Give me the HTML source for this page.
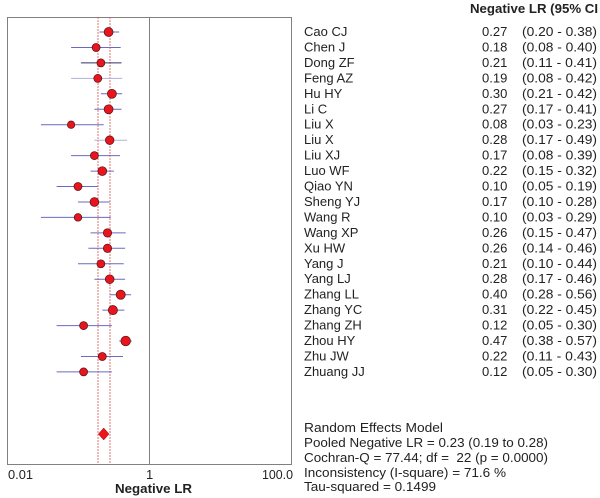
<!DOCTYPE html>
<html><head><meta charset="utf-8"><style>
body{margin:0;background:#fff;}
svg{display:block;font-family:"Liberation Sans",Arial,sans-serif;}
</style></head><body>
<svg width="600" height="498" viewBox="0 0 600 498">
<rect x="7.5" y="17.5" width="284" height="447" fill="none" stroke="#808080" stroke-width="1"/>
<line x1="149.5" y1="17" x2="149.5" y2="464" stroke="#808080"/>
<line x1="98" y1="17" x2="98" y2="464" stroke="#e05050" stroke-width="0.8" stroke-dasharray="2,1"/>
<line x1="110" y1="17" x2="110" y2="464" stroke="#e05050" stroke-width="0.8" stroke-dasharray="2,1"/>
<g stroke="#6a6ac0" stroke-width="1">
<line x1="99.4" y1="32" x2="119.2" y2="32"/>
<line x1="71.1" y1="47.5" x2="120.7" y2="47.5"/>
<line x1="80.9" y1="62.9" x2="121.5" y2="62.9" stroke="#333366"/>
<line x1="71.1" y1="78.4" x2="122.2" y2="78.4" stroke="#b0b0dd"/>
<line x1="100.9" y1="93.8" x2="122.2" y2="93.8"/>
<line x1="94.4" y1="109.3" x2="121.5" y2="109.3"/>
<line x1="40.9" y1="124.7" x2="103.7" y2="124.7"/>
<line x1="94.4" y1="140.2" x2="127" y2="140.2" stroke="#b0b0dd"/>
<line x1="71.1" y1="155.6" x2="120" y2="155.6"/>
<line x1="90.5" y1="171.1" x2="113.9" y2="171.1"/>
<line x1="56.6" y1="186.5" x2="97.8" y2="186.5"/>
<line x1="78" y1="202" x2="109.7" y2="202"/>
<line x1="40.9" y1="217.4" x2="110.8" y2="217.4"/>
<line x1="90.5" y1="232.9" x2="125.7" y2="232.9"/>
<line x1="88.4" y1="248.3" x2="125.1" y2="248.3"/>
<line x1="78" y1="263.8" x2="123.7" y2="263.8"/>
<line x1="94.4" y1="279.2" x2="125.1" y2="279.2"/>
<line x1="109.7" y1="294.7" x2="131.1" y2="294.7"/>
<line x1="102.3" y1="310.1" x2="124.4" y2="310.1"/>
<line x1="56.6" y1="325.6" x2="111.9" y2="325.6"/>
<line x1="119.2" y1="341" x2="131.7" y2="341"/>
<line x1="80.9" y1="356.5" x2="123" y2="356.5"/>
<line x1="56.6" y1="371.9" x2="111.9" y2="371.9"/>
</g>
<g fill="#e8141e" stroke="#551111" stroke-width="0.7">
<circle cx="108.6" cy="32" r="4.5"/>
<circle cx="96.1" cy="47.5" r="4"/>
<circle cx="100.9" cy="62.9" r="4"/>
<circle cx="97.8" cy="78.4" r="4"/>
<circle cx="111.9" cy="93.8" r="4.5"/>
<circle cx="108.6" cy="109.3" r="4.5"/>
<circle cx="71.1" cy="124.7" r="3.7"/>
<circle cx="109.7" cy="140.2" r="4.3"/>
<circle cx="94.4" cy="155.6" r="4"/>
<circle cx="102.3" cy="171.1" r="4.4"/>
<circle cx="78" cy="186.5" r="4"/>
<circle cx="94.4" cy="202" r="4.4"/>
<circle cx="78" cy="217.4" r="3.8"/>
<circle cx="107.5" cy="232.9" r="4.2"/>
<circle cx="107.5" cy="248.3" r="4.2"/>
<circle cx="100.9" cy="263.8" r="4"/>
<circle cx="109.7" cy="279.2" r="4.4"/>
<circle cx="120.7" cy="294.7" r="4.6"/>
<circle cx="112.9" cy="310.1" r="4.6"/>
<circle cx="83.6" cy="325.6" r="4"/>
<circle cx="125.7" cy="341" r="4.8"/>
<circle cx="102.3" cy="356.5" r="4"/>
<circle cx="83.6" cy="371.9" r="4"/>
</g>
<polygon points="103.7,428 109,434 103.7,440 98.4,434" fill="#e8141e" stroke="#aa0000" stroke-width="0.5"/>
<g font-size="13" fill="#222">
<text x="8" y="479" textLength="25" lengthAdjust="spacingAndGlyphs">0.01</text>
<text x="146" y="479">1</text>
<text x="262" y="479" textLength="31" lengthAdjust="spacingAndGlyphs">100.0</text>
<text x="115" y="493" font-weight="bold" textLength="77" lengthAdjust="spacingAndGlyphs">Negative LR</text>
<text x="470" y="13" font-weight="bold" textLength="128" lengthAdjust="spacingAndGlyphs">Negative LR (95% CI</text>
</g>
<g font-size="13" fill="#222">
<text x="304" y="36">Cao CJ</text><text x="482" y="36">0.27</text><text x="522" y="36" textLength="75" lengthAdjust="spacingAndGlyphs">(0.20 - 0.38)</text>
<text x="304" y="51.5">Chen J</text><text x="482" y="51.5">0.18</text><text x="522" y="51.5" textLength="75" lengthAdjust="spacingAndGlyphs">(0.08 - 0.40)</text>
<text x="304" y="66.9">Dong ZF</text><text x="482" y="66.9">0.21</text><text x="522" y="66.9" textLength="75" lengthAdjust="spacingAndGlyphs">(0.11 - 0.41)</text>
<text x="304" y="82.4">Feng AZ</text><text x="482" y="82.4">0.19</text><text x="522" y="82.4" textLength="75" lengthAdjust="spacingAndGlyphs">(0.08 - 0.42)</text>
<text x="304" y="97.8">Hu HY</text><text x="482" y="97.8">0.30</text><text x="522" y="97.8" textLength="75" lengthAdjust="spacingAndGlyphs">(0.21 - 0.42)</text>
<text x="304" y="113.3">Li C</text><text x="482" y="113.3">0.27</text><text x="522" y="113.3" textLength="75" lengthAdjust="spacingAndGlyphs">(0.17 - 0.41)</text>
<text x="304" y="128.7">Liu X</text><text x="482" y="128.7">0.08</text><text x="522" y="128.7" textLength="75" lengthAdjust="spacingAndGlyphs">(0.03 - 0.23)</text>
<text x="304" y="144.2">Liu X</text><text x="482" y="144.2">0.28</text><text x="522" y="144.2" textLength="75" lengthAdjust="spacingAndGlyphs">(0.17 - 0.49)</text>
<text x="304" y="159.6">Liu XJ</text><text x="482" y="159.6">0.17</text><text x="522" y="159.6" textLength="75" lengthAdjust="spacingAndGlyphs">(0.08 - 0.39)</text>
<text x="304" y="175.1">Luo WF</text><text x="482" y="175.1">0.22</text><text x="522" y="175.1" textLength="75" lengthAdjust="spacingAndGlyphs">(0.15 - 0.32)</text>
<text x="304" y="190.5">Qiao YN</text><text x="482" y="190.5">0.10</text><text x="522" y="190.5" textLength="75" lengthAdjust="spacingAndGlyphs">(0.05 - 0.19)</text>
<text x="304" y="206">Sheng YJ</text><text x="482" y="206">0.17</text><text x="522" y="206" textLength="75" lengthAdjust="spacingAndGlyphs">(0.10 - 0.28)</text>
<text x="304" y="221.4">Wang R</text><text x="482" y="221.4">0.10</text><text x="522" y="221.4" textLength="75" lengthAdjust="spacingAndGlyphs">(0.03 - 0.29)</text>
<text x="304" y="236.9">Wang XP</text><text x="482" y="236.9">0.26</text><text x="522" y="236.9" textLength="75" lengthAdjust="spacingAndGlyphs">(0.15 - 0.47)</text>
<text x="304" y="252.3">Xu HW</text><text x="482" y="252.3">0.26</text><text x="522" y="252.3" textLength="75" lengthAdjust="spacingAndGlyphs">(0.14 - 0.46)</text>
<text x="304" y="267.8">Yang J</text><text x="482" y="267.8">0.21</text><text x="522" y="267.8" textLength="75" lengthAdjust="spacingAndGlyphs">(0.10 - 0.44)</text>
<text x="304" y="283.2">Yang LJ</text><text x="482" y="283.2">0.28</text><text x="522" y="283.2" textLength="75" lengthAdjust="spacingAndGlyphs">(0.17 - 0.46)</text>
<text x="304" y="298.7">Zhang LL</text><text x="482" y="298.7">0.40</text><text x="522" y="298.7" textLength="75" lengthAdjust="spacingAndGlyphs">(0.28 - 0.56)</text>
<text x="304" y="314.1">Zhang YC</text><text x="482" y="314.1">0.31</text><text x="522" y="314.1" textLength="75" lengthAdjust="spacingAndGlyphs">(0.22 - 0.45)</text>
<text x="304" y="329.6">Zhang ZH</text><text x="482" y="329.6">0.12</text><text x="522" y="329.6" textLength="75" lengthAdjust="spacingAndGlyphs">(0.05 - 0.30)</text>
<text x="304" y="345">Zhou HY</text><text x="482" y="345">0.47</text><text x="522" y="345" textLength="75" lengthAdjust="spacingAndGlyphs">(0.38 - 0.57)</text>
<text x="304" y="360.5">Zhu JW</text><text x="482" y="360.5">0.22</text><text x="522" y="360.5" textLength="75" lengthAdjust="spacingAndGlyphs">(0.11 - 0.43)</text>
<text x="304" y="375.9">Zhuang JJ</text><text x="482" y="375.9">0.12</text><text x="522" y="375.9" textLength="75" lengthAdjust="spacingAndGlyphs">(0.05 - 0.30)</text>
</g>
<g font-size="13" fill="#222">
<text x="304" y="432" textLength="139" lengthAdjust="spacingAndGlyphs">Random Effects Model</text>
<text x="304" y="447" textLength="244" lengthAdjust="spacingAndGlyphs">Pooled Negative LR = 0.23 (0.19 to 0.28)</text>
<text x="304" y="462" textLength="244" lengthAdjust="spacingAndGlyphs" xml:space="preserve">Cochran-Q = 77.44; df =  22 (p = 0.0000)</text>
<text x="304" y="477" textLength="202" lengthAdjust="spacingAndGlyphs">Inconsistency (I-square) = 71.6 %</text>
<text x="304" y="491" textLength="132" lengthAdjust="spacingAndGlyphs">Tau-squared = 0.1499</text>
</g>
</svg>
</body></html>
